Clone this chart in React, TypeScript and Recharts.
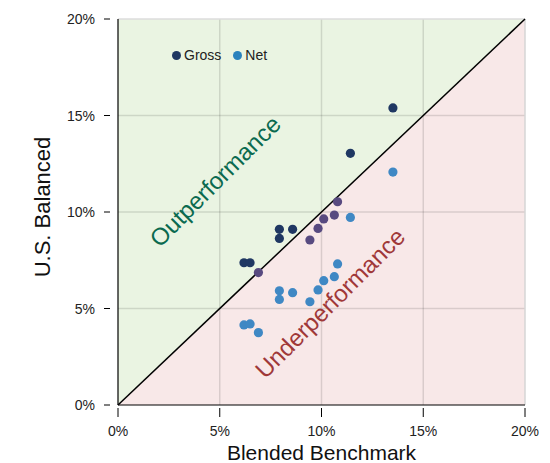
import { ScatterChart, Scatter, XAxis, YAxis, ReferenceArea, ReferenceLine, ReferenceDot, Cell } from "recharts";

const benchmark = [13.51, 11.42, 10.79, 10.63, 10.11, 9.83, 9.43, 7.93, 7.93, 8.58, 6.19, 6.49, 6.9];
const grossReturns = [15.39, 13.04, 10.53, 9.84, 9.64, 9.15, 8.55, 9.1, 8.63, 9.1, 7.37, 7.37, 6.86];
const netReturns = [12.07, 9.72, 7.31, 6.65, 6.44, 5.96, 5.35, 5.92, 5.47, 5.82, 4.15, 4.2, 3.75];
const ticks = [0, 5, 10, 15, 20];
const gridLines = [5, 10, 15];

const grossData = benchmark.map((x, i) => ({ x, y: grossReturns[i] }));
const netData = benchmark.map((x, i) => ({ x, y: netReturns[i] }));

const GROSS = "#1f3762";
const GROSS_UNDER = "#584a80";
const NET = "#3f88c4";
const FONT = "'Liberation Sans', Arial, sans-serif";

const pct = (v: number) => `${v}%`;

function Dot(props: any) {
  return <circle cx={props.cx} cy={props.cy} r={4.6} fill={props.fill} />;
}

function Backdrop(props: any) {
  const { x, y, width, height } = props;
  return (
    <g>
      <polygon points={`${x},${y} ${x + width},${y} ${x},${y + height}`} fill="#eaf4e2" />
      <polygon points={`${x + width},${y} ${x + width},${y + height} ${x},${y + height}`} fill="#f8e8e8" />
    </g>
  );
}

function rotatedLabel(text: string, color: string) {
  return (props: any) => (
    <text
      x={props.cx}
      y={props.cy}
      transform={`rotate(-45 ${props.cx} ${props.cy})`}
      textAnchor="middle"
      dominantBaseline="central"
      fontSize={24}
      fontFamily={FONT}
      fill={color}
    >
      {text}
    </text>
  );
}

function XTick(props: any) {
  const { x, y, payload } = props;
  return (
    <g>
      <line x1={x} x2={x} y1={y - 5} y2={y + 4} stroke="#000" />
      <text x={x} y={y + 23} textAnchor="middle" fontSize={14} fill="#222" fontFamily={FONT}>
        {pct(payload.value)}
      </text>
    </g>
  );
}

function YTick(props: any) {
  const { x, y, payload } = props;
  return (
    <g>
      <line x1={x - 6} x2={x} y1={y} y2={y} stroke="#000" />
      <text x={x - 15} y={y} textAnchor="end" dominantBaseline="central" fontSize={14} fill="#222" fontFamily={FONT}>
        {pct(payload.value)}
      </text>
    </g>
  );
}

function XTitle(props: any) {
  const vb = props.viewBox;
  return (
    <text x={vb.x + vb.width / 2} y={vb.y + 47} textAnchor="middle" dominantBaseline="central" fontSize={21} fill="#111" fontFamily={FONT}>
      Blended Benchmark
    </text>
  );
}

function YTitle(props: any) {
  const vb = props.viewBox;
  const cx = vb.x + 42;
  const cy = vb.y + vb.height / 2 - 5;
  return (
    <text x={cx} y={cy} transform={`rotate(-90 ${cx} ${cy})`} textAnchor="middle" dominantBaseline="central" fontSize={22} fill="#111" fontFamily={FONT}>
      U.S. Balanced
    </text>
  );
}

function LegendBox() {
  return (
    <div style={{ position: "absolute", top: 47, left: 172, display: "flex", alignItems: "center", fontSize: 14, color: "#222", fontFamily: FONT }}>
      <span style={{ width: 9, height: 9, borderRadius: 5, background: GROSS, marginRight: 3 }} />
      <span style={{ marginRight: 12 }}>Gross</span>
      <span style={{ width: 9, height: 9, borderRadius: 5, background: "#2a82bd", marginRight: 3 }} />
      <span>Net</span>
    </div>
  );
}

export default function App() {
  return (
    <div style={{ position: "absolute", left: 0, top: 0, width: 550, height: 463, fontFamily: FONT }}>
      <ScatterChart width={550} height={463} margin={{ top: 19, right: 25, bottom: 0, left: 0 }}>
        <ReferenceArea x1={0} x2={20} y1={0} y2={20} shape={<Backdrop />} ifOverflow="visible" />
        {gridLines.map((v) => (
          <ReferenceLine key={`vx${v}`} x={v} stroke="rgba(0,0,0,0.12)" strokeWidth={1.5} />
        ))}
        {gridLines.map((v) => (
          <ReferenceLine key={`hy${v}`} y={v} stroke="rgba(0,0,0,0.12)" strokeWidth={1.5} />
        ))}
        <ReferenceLine x={20} stroke="#d6d6d6" strokeWidth={1.5} />
        <ReferenceLine y={20} stroke="#dcdcdc" strokeWidth={1.5} />
        <ReferenceLine segment={[{ x: 0, y: 0 }, { x: 20, y: 20 }]} stroke="#000" strokeWidth={1.5} />
        <XAxis
          type="number"
          dataKey="x"
          domain={[0, 20]}
          ticks={ticks}
          height={58}
          tickLine={false}
          tick={<XTick />}
          axisLine={{ stroke: "#000", strokeWidth: 1.2 }}
          label={<XTitle />}
        />
        <YAxis
          type="number"
          dataKey="y"
          domain={[0, 20]}
          ticks={ticks}
          width={118}
          tickLine={false}
          tick={<YTick />}
          axisLine={{ stroke: "#000", strokeWidth: 1.2 }}
          label={<YTitle />}
        />
        <ReferenceDot x={4.77} y={11.6} r={0} shape={rotatedLabel("Outperformance", "#0b6a4f")} ifOverflow="visible" />
        <ReferenceDot x={10.42} y={5.28} r={0} shape={rotatedLabel("Underperformance", "#a03838")} ifOverflow="visible" />
        <Scatter name="Gross" data={grossData} fill={GROSS} shape={<Dot />} isAnimationActive={false}>
          {grossData.map((d, i) => (
            <Cell key={i} fill={d.y < d.x ? GROSS_UNDER : GROSS} />
          ))}
        </Scatter>
        <Scatter name="Net" data={netData} fill={NET} shape={<Dot />} isAnimationActive={false} />
      </ScatterChart>
      <LegendBox />
    </div>
  );
}
